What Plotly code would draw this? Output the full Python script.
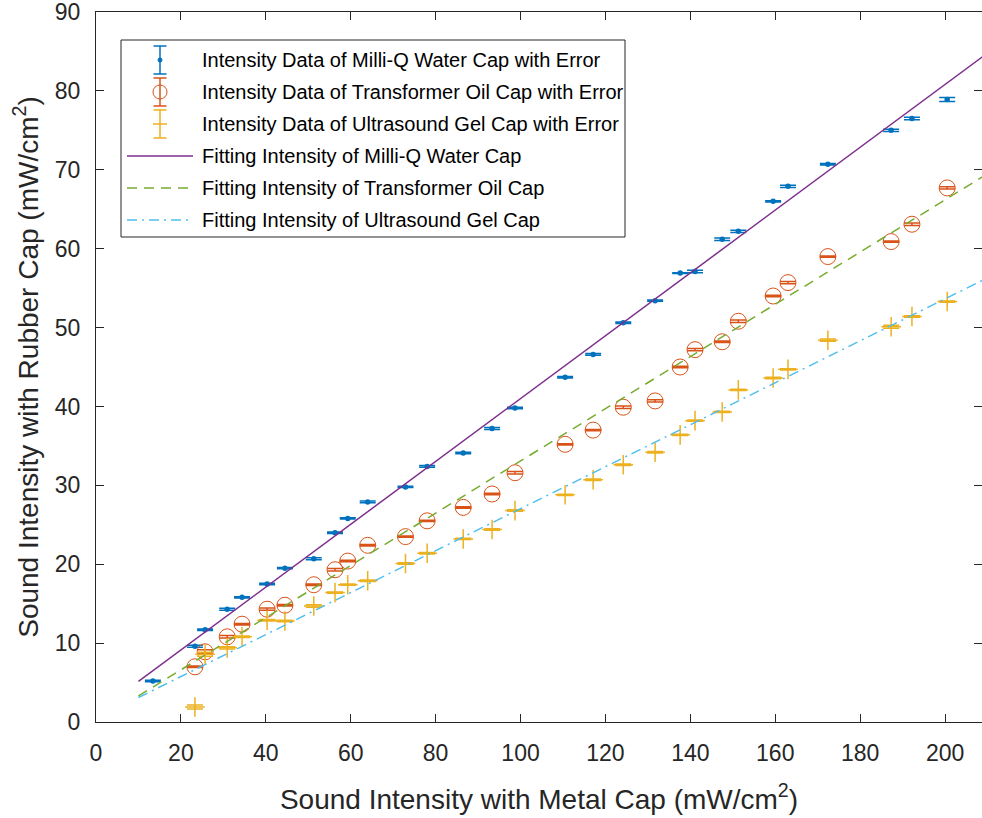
import plotly.graph_objects as go

# ---- measured data -------------------------------------------------------
# metal-cap intensity (x) for every measurement
metal_water = [13.4, 23.3, 25.7, 30.9, 34.4, 40.3, 44.5, 51.3, 56.3, 59.3,
               64.0, 72.9, 78.0, 86.5, 93.3, 98.7, 110.5, 117.1, 124.2, 131.7,
               137.6, 141.1, 147.5, 151.3, 159.5, 163.0, 172.4, 187.3, 192.2, 200.5]
metal_other = [23.3, 25.7, 30.9, 34.4, 40.3, 44.5, 51.3, 56.3, 59.3,
               64.0, 72.9, 78.0, 86.5, 93.3, 98.7, 110.5, 117.1, 124.2, 131.7,
               137.6, 141.1, 147.5, 151.3, 159.5, 163.0, 172.4, 187.3, 192.2, 200.5]

# rubber-cap intensity (y) per coupling medium
water_y = [5.2, 9.6, 11.7, 14.3, 15.8, 17.5, 19.5, 20.7, 24.0, 25.8,
           27.9, 29.8, 32.4, 34.1, 37.2, 39.8, 43.7, 46.6, 50.6, 53.4,
           56.9, 57.1, 61.2, 62.2, 66.0, 67.9, 70.7, 75.0, 76.5, 78.9]
water_err = [0.10, 0.12, 0.10, 0.12, 0.08, 0.10, 0.08, 0.12, 0.10, 0.08,
             0.10, 0.08, 0.12, 0.10, 0.12, 0.10, 0.10, 0.12, 0.10, 0.08,
             0.06, 0.15, 0.15, 0.15, 0.08, 0.15, 0.08, 0.15, 0.15, 0.25]

oil_y = [7.0, 8.9, 10.8, 12.4, 14.3, 14.8, 17.4, 19.3, 20.4, 22.4,
         23.5, 25.5, 27.2, 28.9, 31.6, 35.2, 37.0, 39.9, 40.7, 45.0,
         47.2, 48.2, 50.8, 54.0, 55.7, 59.0, 60.9, 63.1, 67.7]
oil_err = [0.10, 0.25, 0.15, 0.10, 0.15, 0.10, 0.10, 0.15, 0.10, 0.10,
           0.08, 0.08, 0.10, 0.10, 0.15, 0.08, 0.08, 0.15, 0.15, 0.10,
           0.15, 0.08, 0.15, 0.08, 0.15, 0.08, 0.08, 0.15, 0.15]

gel_y = [1.9, 8.6, 9.4, 10.8, 12.9, 12.8, 14.7, 16.4, 17.4, 17.9,
         20.1, 21.4, 23.2, 24.4, 26.8, 28.8, 30.7, 32.6, 34.2, 36.4,
         38.2, 39.3, 42.1, 43.6, 44.7, 48.4, 50.1, 51.4, 53.3]
gel_err = [0.25, 0.25, 0.15, 0.10, 0.10, 0.10, 0.15, 0.08, 0.08, 0.10,
           0.10, 0.10, 0.08, 0.10, 0.10, 0.08, 0.10, 0.10, 0.10, 0.08,
           0.08, 0.08, 0.08, 0.10, 0.08, 0.15, 0.20, 0.10, 0.08]

# linear fits, evaluated at the ends of the fitted range
fit_x = [10, 210]
fit_water = [5.15, 84.8]
fit_oil = [3.3, 69.5]
fit_gel = [3.1, 56.3]

legend_labels = [
    "Intensity Data of Milli-Q Water Cap with Error",
    "Intensity Data of Transformer Oil Cap with Error",
    "Intensity Data of Ultrasound Gel Cap with Error",
    "Fitting Intensity of Milli-Q Water Cap",
    "Fitting Intensity of Transformer Oil Cap",
    "Fitting Intensity of Ultrasound Gel Cap",
]

x_ticks = list(range(0, 201, 20))
y_ticks = list(range(0, 91, 10))

# ---- styling -------------------------------------------------------------
BLUE, RED, GOLD = "#0072BD", "#D95319", "#EDB120"
PURPLE, GREEN, CYAN = "#7E2F8E", "#77AC30", "#4DBEEE"
AXIS = "#262626"
FONT = "Liberation Sans, Arial, Helvetica, sans-serif"
DASH = "10px,7px"
DASHDOT = "10px,5px,2px,5px"

W, H = 982, 818
L, R, T, B = 96, 0, 12, 96

fig = go.Figure()


def err(arr, color):
    return dict(type="data", array=arr, symmetric=True, color=color,
                thickness=1.5, width=8)


fig.add_trace(go.Scatter(
    x=metal_water, y=water_y, mode="markers", name=legend_labels[0],
    marker=dict(symbol="circle", size=5.5, color=BLUE),
    error_y=err(water_err, BLUE), showlegend=False))
fig.add_trace(go.Scatter(
    x=metal_other, y=oil_y, mode="markers", name=legend_labels[1],
    marker=dict(symbol="circle-open", size=16, color=RED, line=dict(width=1)),
    error_y=err(oil_err, RED), showlegend=False))
fig.add_trace(go.Scatter(
    x=metal_other, y=gel_y, mode="markers", name=legend_labels[2],
    marker=dict(symbol="cross-thin-open", size=14, color=GOLD,
                line=dict(width=1.5, color=GOLD)),
    error_y=err(gel_err, GOLD), showlegend=False))

fig.add_trace(go.Scatter(x=fit_x, y=fit_water, mode="lines", name=legend_labels[3],
                         line=dict(color=PURPLE, width=1.5), showlegend=False))
fig.add_trace(go.Scatter(x=fit_x, y=fit_oil, mode="lines", name=legend_labels[4],
                         line=dict(color=GREEN, width=1.5, dash=DASH), showlegend=False))
fig.add_trace(go.Scatter(x=fit_x, y=fit_gel, mode="lines", name=legend_labels[5],
                         line=dict(color=CYAN, width=1.5, dash=DASHDOT), showlegend=False))

# ---- boxed legend drawn in pixel space ----------------------------------
pw, ph = W - L - R, H - T - B


def xp(px):
    return (px - L) / pw


def yp(py):
    return (H - B - py) / ph


shapes = []
annotations = []
box_l, box_r, box_t, box_b = 121, 625, 40, 237
shapes.append(dict(type="rect", xref="paper", yref="paper",
                   x0=xp(box_l), x1=xp(box_r), y0=yp(box_b), y1=yp(box_t),
                   line=dict(color=AXIS, width=1), fillcolor="white", layer="above"))

icon_x = 160
row0, row_step = 60, 32


def seg(x0, y0, x1, y1, color, width=1.5, dash="solid"):
    shapes.append(dict(type="line", xref="paper", yref="paper",
                       x0=xp(x0), y0=yp(y0), x1=xp(x1), y1=yp(y1),
                       line=dict(color=color, width=width, dash=dash), layer="above"))


def errbar_icon(cy, color):
    seg(icon_x, cy - 14, icon_x, cy + 14, color)
    seg(icon_x - 6.5, cy - 14, icon_x + 6.5, cy - 14, color)
    seg(icon_x - 6.5, cy + 14, icon_x + 6.5, cy + 14, color)


for i, label in enumerate(legend_labels):
    cy = row0 + i * row_step
    if i == 0:
        errbar_icon(cy, BLUE)
        shapes.append(dict(type="circle", xref="paper", yref="paper",
                           x0=xp(icon_x - 2), x1=xp(icon_x + 2),
                           y0=yp(cy + 2), y1=yp(cy - 2),
                           line=dict(color=BLUE, width=1), fillcolor=BLUE, layer="above"))
    elif i == 1:
        errbar_icon(cy, RED)
        shapes.append(dict(type="circle", xref="paper", yref="paper",
                           x0=xp(icon_x - 7), x1=xp(icon_x + 7),
                           y0=yp(cy + 7), y1=yp(cy - 7),
                           line=dict(color=RED, width=1), layer="above"))
    elif i == 2:
        errbar_icon(cy, GOLD)
        seg(icon_x - 7, cy, icon_x + 7, cy, GOLD)
    elif i == 3:
        seg(127, cy, 193, cy, PURPLE)
    elif i == 4:
        seg(127, cy, 193, cy, GREEN, dash=DASH)
    else:
        seg(127, cy, 193, cy, CYAN, dash=DASHDOT)
    annotations.append(dict(text=label, xref="paper", yref="paper",
                            x=xp(200), y=yp(cy), xanchor="left", yanchor="middle",
                            showarrow=False, font=dict(family=FONT, size=20, color="#000000")))

fig.update_layout(
    width=W, height=H,
    margin=dict(l=L, r=R, t=T, b=B, pad=0),
    paper_bgcolor="white", plot_bgcolor="white",
    font=dict(family=FONT, color=AXIS),
    showlegend=False,
    shapes=shapes,
    annotations=annotations,
    xaxis=dict(
        range=[0, 208.7], tickvals=x_ticks, ticks="inside", ticklen=8,
        tickcolor=AXIS, tickwidth=1, showline=True, linecolor=AXIS, linewidth=1,
        mirror="allticks", showgrid=False, zeroline=False,
        tickfont=dict(family=FONT, size=23, color=AXIS), ticklabelstandoff=10,
        ticklabeloverflow="allow",
        title=dict(text="Sound Intensity with Metal Cap (mW/cm<sup>2</sup>)",
                   font=dict(family=FONT, size=28, color=AXIS), standoff=24),
    ),
    yaxis=dict(
        range=[0, 90], tickvals=y_ticks, ticks="inside", ticklen=8,
        tickcolor=AXIS, tickwidth=1, showline=True, linecolor=AXIS, linewidth=1,
        mirror="allticks", showgrid=False, zeroline=False,
        tickfont=dict(family=FONT, size=23, color=AXIS), ticklabelstandoff=10,
        ticklabeloverflow="allow",
        title=dict(text="Sound Intensity with Rubber Cap (mW/cm<sup>2</sup>)",
                   font=dict(family=FONT, size=28, color=AXIS), standoff=8),
    ),
)

fig.write_html("out.html")
